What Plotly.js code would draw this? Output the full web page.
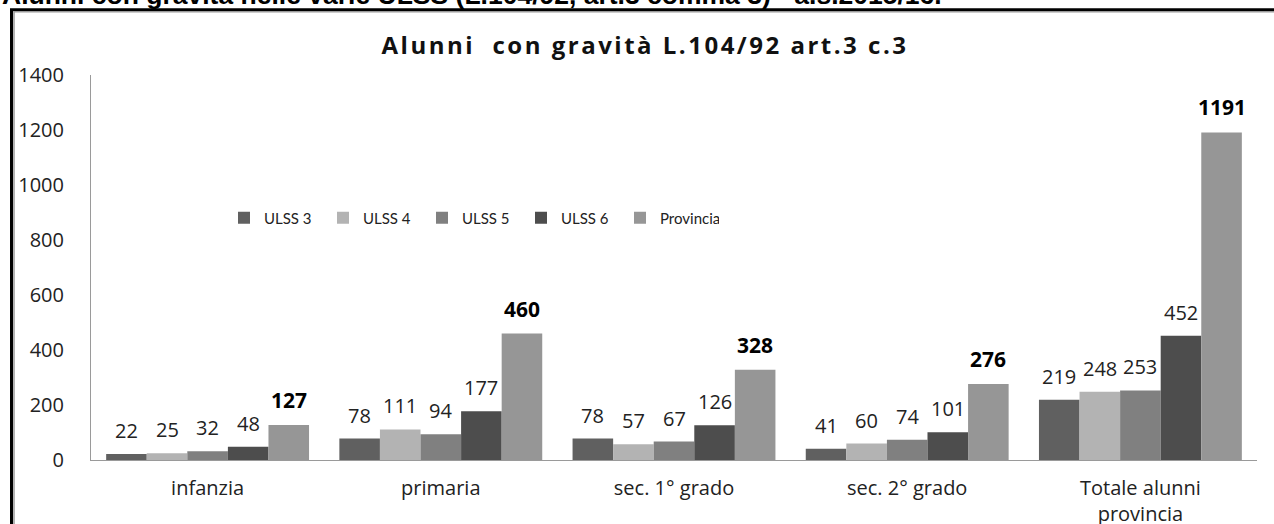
<!DOCTYPE html>
<html>
<head>
<meta charset="utf-8">
<script src="https://cdn.plot.ly/plotly-3.0.1.min.js"></script>
<style>
html,body{margin:0;padding:0;background:#fff;}
#chart{width:1274px;height:524px;}
#chart .gtitle{letter-spacing:2.5px;}
</style>
</head>
<body>
<div id="chart"></div>
<script>
const categories = ["infanzia", "primaria", "sec. 1° grado", "sec. 2° grado", "Totale alunni<br>provincia"];
const seriesNames = ["ULSS 3", "ULSS 4", "ULSS 5", "ULSS 6", "Provincia"];
const ulss3 = [22, 78, 78, 41, 219];
const ulss4 = [25, 111, 57, 60, 248];
const ulss5 = [32, 94, 67, 74, 253];
const ulss6 = [48, 177, 126, 101, 452];
const provincia = [127, 460, 328, 276, 1191];
const yTicks = [0, 200, 400, 600, 800, 1000, 1200, 1400];
const chartTitle = "Alunni  con gravità L.104/92 art.3 c.3";
const headerText = "Alunni con gravità nelle varie ULSS (L.104/92, art.3 comma 3) - a.s.2015/16.";

const seriesValues = [ulss3, ulss4, ulss5, ulss6, provincia];
const colors = ["#606060", "#b3b3b3", "#808080", "#4d4d4d", "#969696"];
const bargap = 0.13;

// plot area geometry (pixels)
const W = 1274, H = 524;
const L = 91, R = 1257, T = 75, B = 460;
const px2x = p => (p - L) / (R - L);
const py2y = p => (B - p) / (B - T);

const traces = seriesNames.map((name, i) => ({
  type: "bar",
  name: name,
  x: categories,
  y: seriesValues[i],
  marker: {color: colors[i], line: {width: 0}},
  hoverinfo: "x+y+name"
}));

const annotations = [];
seriesValues.forEach((vals, i) => {
  const isProv = i === 4;
  vals.forEach((v, j) => {
    annotations.push({
      xref: "x", yref: "y",
      x: j + (i - 2) * (1 - bargap) / 5,
      y: v,
      text: isProv ? "<b>" + v + "</b>" : String(v),
      showarrow: false,
      xanchor: "center", yanchor: "bottom",
      yshift: isProv ? 9 : 8,
      font: {family: "Open Sans", size: isProv ? 21 : 20, color: isProv ? "#000" : "#222"}
    });
  });
});

annotations.push({
  xref: "paper", yref: "paper",
  x: px2x(0), y: py2y(12.5),
  xanchor: "left", yanchor: "bottom",
  text: "<b>" + headerText + "</b>",
  showarrow: false,
  font: {family: "Liberation Sans", size: 26.5, color: "#000"}
});

const layout = {
  width: W, height: H,
  margin: {l: L, r: W - R, t: T, b: H - B, pad: 0},
  paper_bgcolor: "#fff",
  plot_bgcolor: "#fff",
  font: {family: "Open Sans", color: "#222"},
  barmode: "group",
  bargap: bargap,
  bargroupgap: 0,
  title: {
    text: "<b>" + chartTitle + "</b>",
    x: 645 / W, xanchor: "center",
    y: 1 - 46 / H, yanchor: "middle",
    xref: "container", yref: "container",
    font: {family: "Open Sans", size: 24, color: "#111"}
  },
  xaxis: {
    type: "category",
    showgrid: false,
    zeroline: false,
    showline: true,
    linecolor: "#9a9a9a",
    linewidth: 1,
    ticks: "",
    ticklabelstandoff: 10,
    tickfont: {family: "Open Sans", size: 20, color: "#222"},
    fixedrange: true
  },
  yaxis: {
    range: [0, 1400],
    tickmode: "array",
    tickvals: yTicks,
    ticktext: yTicks.map(String),
    showgrid: false,
    zeroline: false,
    showline: true,
    linecolor: "#9a9a9a",
    linewidth: 1,
    ticks: "",
    ticklabelstandoff: 22,
    tickfont: {family: "Open Sans", size: 20, color: "#222"},
    fixedrange: true
  },
  showlegend: true,
  legend: {
    orientation: "h",
    x: px2x(224), xanchor: "left",
    y: py2y(218), yanchor: "middle",
    entrywidth: 54, entrywidthmode: "pixels",
    itemwidth: 30,
    traceorder: "normal",
    font: {family: "Lato", size: 15, color: "#222"},
    bgcolor: "rgba(0,0,0,0)"
  },
  annotations: annotations,
  shapes: [
    {type: "rect", xref: "paper", yref: "paper", layer: "above",
     x0: px2x(11.5), x1: px2x(1300), y0: py2y(9.7), y1: py2y(560),
     line: {color: "#000", width: 3}, fillcolor: "rgba(0,0,0,0)"},
    {type: "rect", xref: "paper", yref: "paper", layer: "above",
     x0: px2x(14), x1: px2x(1300), y0: py2y(11.8), y1: py2y(560),
     line: {color: "#9a9a9a", width: 1.5}, fillcolor: "rgba(0,0,0,0)"}
  ]
};

Plotly.newPlot("chart", traces, layout, {displayModeBar: false, staticPlot: true});
</script>
</body>
</html>
